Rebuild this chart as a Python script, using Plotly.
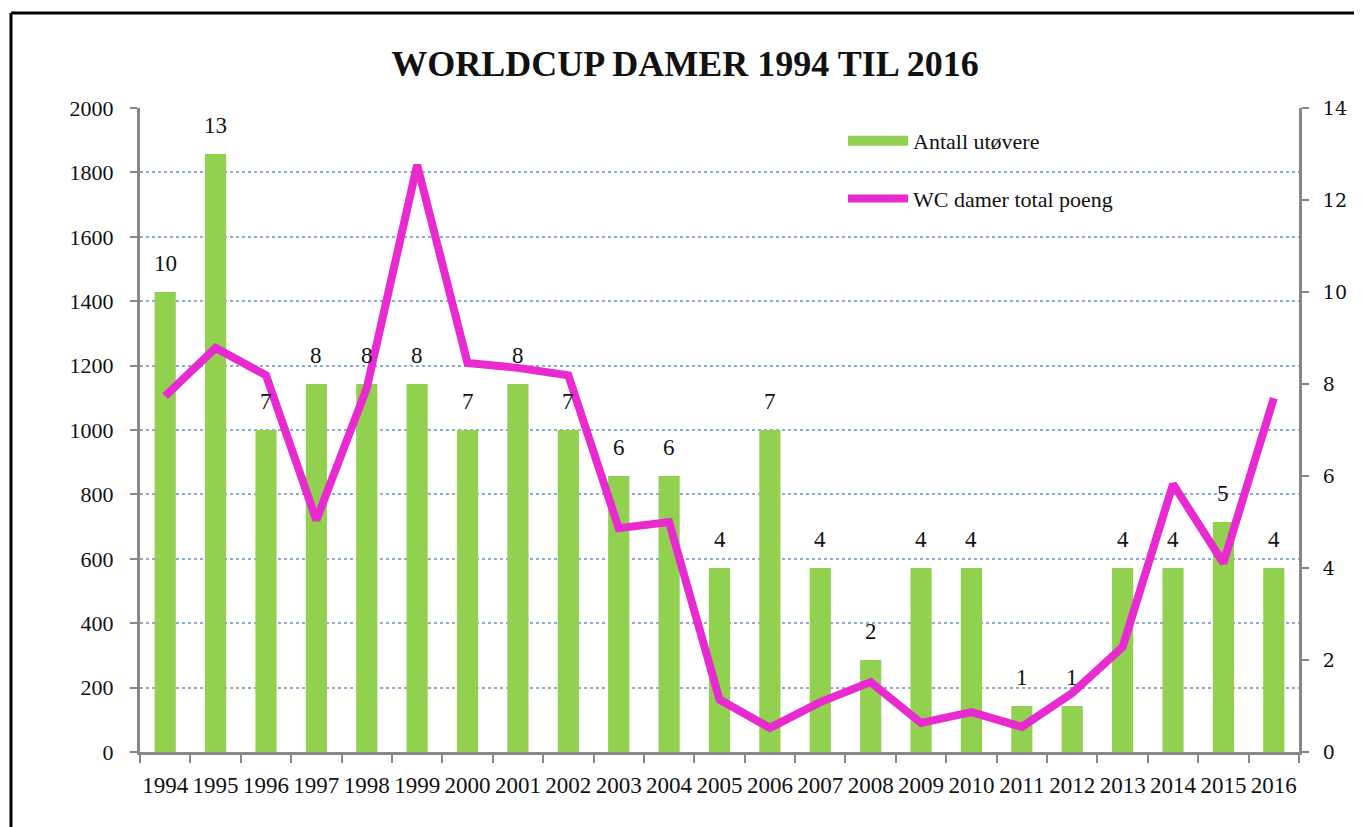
import plotly.graph_objects as go

years = [str(y) for y in range(1994, 2017)]
antall = [10, 13, 7, 8, 8, 8, 7, 8, 7, 6, 6, 4, 7, 4, 2, 4, 4, 1, 1, 4, 4, 5, 4]
poeng = [1105, 1255, 1170, 720, 1130, 1823, 1208, 1193, 1170, 695, 714, 163, 75, 155, 217,
         90, 124, 78, 183, 326, 832, 587, 1099]

title = "WORLDCUP DAMER 1994 TIL 2016"
bar_name = "Antall utøvere"
line_name = "WC damer total poeng"

SERIF = "Liberation Serif, Times New Roman, serif"
GREEN = "#92D050"
MAGENTA = "#E82AD0"
AXIS = "#878787"

W, H = 1362, 827
ML, MR, MT, MB = 132, 71, 100, 83

fig = go.Figure()
fig.add_trace(go.Bar(x=years, y=antall, name=bar_name, marker=dict(color=GREEN, line=dict(width=0)),
                     width=0.42, yaxis="y", showlegend=False))
# legend swatch for the bars (wide green band as in the reference)
fig.add_trace(go.Scatter(x=[None], y=[None], name=bar_name, mode="lines",
                         line=dict(color=GREEN, width=10), yaxis="y", legendgroup="a"))
fig.add_trace(go.Scatter(x=years, y=poeng, name=line_name, mode="lines",
                         line=dict(color=MAGENTA, width=8), yaxis="y2", legendgroup="b"))

annotations = []
for i, v in enumerate(antall):
    annotations.append(dict(x=i, y=v, xref="x", yref="y", text=str(v), showarrow=False,
                            yanchor="middle", yshift=29,
                            font=dict(family=SERIF, size=23, color="#111")))

ph = H - MT - MB
pw = W - ML - MR
fx = lambda px: (px - ML) / pw
fy = lambda py: (H - MB - py) / ph

fig.update_layout(
    width=W, height=H,
    margin=dict(l=ML, r=MR, t=MT, b=MB),
    paper_bgcolor="white", plot_bgcolor="white",
    title=dict(text="<b>" + title + "</b>", x=(685 - 8) / W, xanchor="center",
               y=1 - 55 / H, yanchor="middle",
               font=dict(family=SERIF, size=36, color="#111")),
    showlegend=True,
    legend=dict(x=fx(835), y=fy(112), xanchor="left", yanchor="top", bgcolor="rgba(0,0,0,0)",
                font=dict(family=SERIF, size=22, color="#111"), tracegroupgap=26,
                traceorder="grouped", itemwidth=60),
    xaxis=dict(type="category", range=[-0.5, len(years) - 0.5], tickson="boundaries",
               ticks="outside", ticklen=8, tickwidth=2, tickangle=0,
               tickcolor=AXIS, showline=True, linecolor=AXIS, linewidth=3, showgrid=False,
               tickfont=dict(family=SERIF, size=23, color="#111"), ticklabelstandoff=10),
    yaxis=dict(side="right", range=[0, 14], dtick=2, showgrid=False, zeroline=False,
               showline=True, linecolor=AXIS, linewidth=3, ticks="outside", ticklen=7,
               tickwidth=2, tickcolor=AXIS, ticklabelstandoff=10,
               tickfont=dict(family="DejaVu Serif, serif", size=19, color="#111")),
    yaxis2=dict(side="left", overlaying="y", range=[0, 2000], dtick=200, showgrid=True,
                gridcolor="#8EAADB", gridwidth=2, griddash="dot", zeroline=False,
                showline=True, linecolor=AXIS, linewidth=3, ticks="outside", ticklen=7,
                tickwidth=2, tickcolor=AXIS, ticklabelstandoff=12,
                tickfont=dict(family=SERIF, size=22, color="#111")),
    annotations=annotations,
    shapes=[
        dict(type="line", xref="paper", yref="paper", x0=fx(3), x1=fx(3), y0=fy(H + 20), y1=fy(5),
             line=dict(color="black", width=3)),
        dict(type="line", xref="paper", yref="paper", x0=fx(3), x1=fx(W + 20), y0=fy(5), y1=fy(5),
             line=dict(color="black", width=3)),
    ],
)

fig.write_html("out.html")
